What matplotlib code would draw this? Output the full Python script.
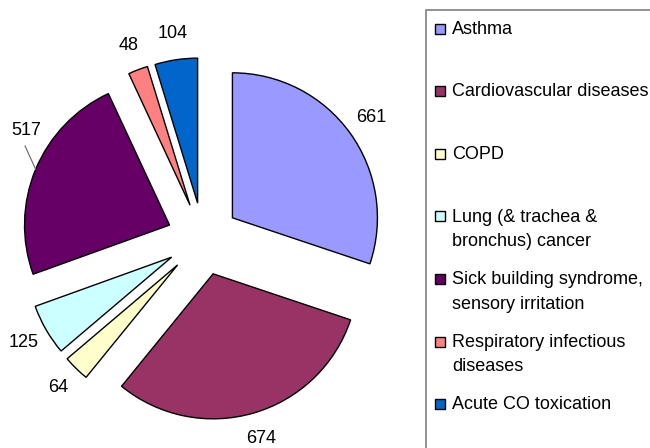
import matplotlib.pyplot as plt
import numpy as np
from matplotlib.patches import Rectangle

# causes and counts
causes = ['Asthma', 'Cardiovascular diseases', 'COPD',
          'Lung (& trachea &\nbronchus) cancer',
          'Sick building syndrome,\nsensory irritation',
          'Respiratory infectious\ndiseases', 'Acute CO toxication']
counts = [661, 674, 64, 125, 517, 48, 104]
colors = ['#9999FF', '#993366', '#FFFFCC', '#CCFFFF', '#660066', '#FF8080', '#0066CC']

plt.rcParams['font.family'] = ['Liberation Sans', 'DejaVu Sans']

W, H = 650, 448
fig = plt.figure(figsize=(W / 100, H / 100), dpi=100)
ax = fig.add_axes([0, 0, 1, 1])

explode = [0.25] * len(counts)
wedges, texts = ax.pie(counts, colors=colors, explode=explode, startangle=90,
                       counterclock=False, labels=[str(c) for c in counts],
                       labeldistance=1.18,
                       wedgeprops=dict(edgecolor='black', linewidth=1.0),
                       textprops=dict(fontsize=13, color='black'))
for t in texts:
    t.set_ha('center')
    t.set_va('center')

r_px = 145.0
cx, cy = 203.0, 239.0  # pie centre in pixels (from top)
ax.set_xlim(-cx / r_px, (W - cx) / r_px)
ax.set_ylim(-(H - cy) / r_px, cy / r_px)
ax.set_aspect('equal')
ax.axis('off')

# the 517 label is pulled up a little, with a leader line
w = wedges[4]
mid = (w.theta1 + w.theta2) / 2
a0 = np.deg2rad(mid)
a1 = np.deg2rad(mid - 5)
a2 = np.deg2rad(mid - 9)
x0, y0 = w.center[0] + np.cos(a0), w.center[1] + np.sin(a0)
x1, y1 = 1.385 * np.cos(a1), 1.385 * np.sin(a1)
ax.plot([x0, x1], [y0, y1], color='#666666', lw=0.8)
texts[4].set_position((1.43 * np.cos(a2), 1.43 * np.sin(a2)))

# legend drawn by hand in pixel units
def fx(x):
    return x / W

def fy(y):
    return 1 - y / H

fig.patches.append(Rectangle((fx(426), fy(470)), fx(300), 460 / H,
                             transform=fig.transFigure, fill=False,
                             edgecolor='#808080', lw=1.2))
for i, (lab, col) in enumerate(zip(causes, colors)):
    yc = 29 + i * 62.5
    fig.patches.append(Rectangle((fx(435), fy(yc + 5)), fx(10), 10 / H,
                                 transform=fig.transFigure, facecolor=col,
                                 edgecolor='black', lw=1.0))
    fig.text(fx(452), fy(yc - 8), lab, fontsize=13, va='top', ha='left',
             linespacing=1.6)

fig.savefig('out.png', dpi=100)
